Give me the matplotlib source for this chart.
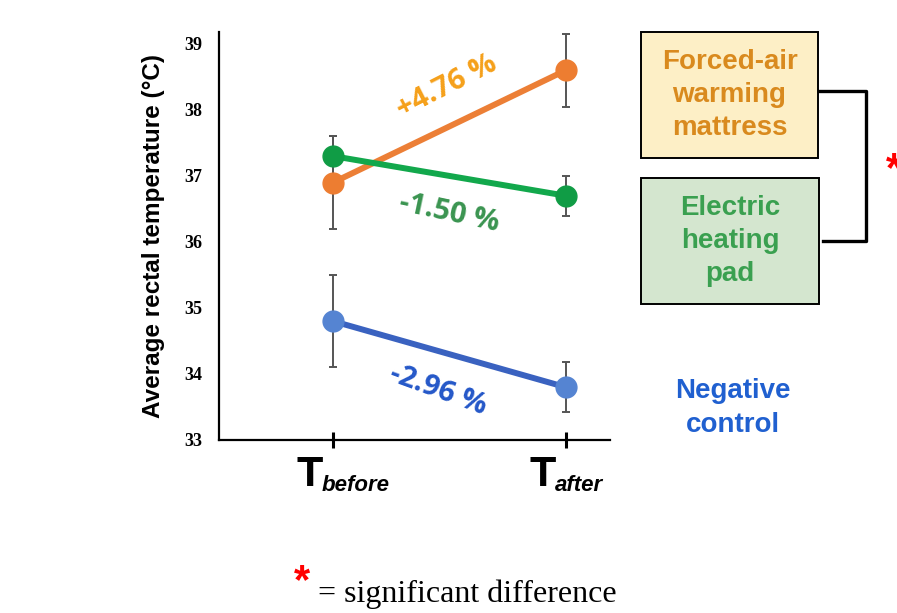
import matplotlib.pyplot as plt
from matplotlib.patches import Rectangle
from matplotlib.lines import Line2D

# Rectal temperature before / after warming (mean +/- SD)
time_points = ["before", "after"]
groups = ["Forced-air\nwarming\nmattress", "Electric\nheating\npad", "Negative\ncontrol"]
forced_air = [36.9, 38.6]
forced_air_sd = [0.7, 0.55]
heating_pad = [37.3, 36.7]
heating_pad_sd = [0.3, 0.3]
neg_control = [34.8, 33.8]
neg_control_sd = [0.7, 0.38]
pct_change = ["+4.76 %", "-1.50 %", "-2.96 %"]
yticks = [33, 34, 35, 36, 37, 38, 39]

W, H = 897, 613
fig = plt.figure(figsize=(W / 100, H / 100), dpi=100)


def px(x, y):
    # pixel position -> figure fraction
    return x / W, 1 - y / H


ax = fig.add_axes([219 / W, 1 - 440 / H, (610 - 219) / W, (440 - 32) / H])
ax.patch.set_alpha(0)

x = [0, 1]
series = [
    (forced_air, forced_air_sd, "#ec7f36", "#ed7d31"),
    (heating_pad, heating_pad_sd, "#12a84c", "#109c45"),
    (neg_control, neg_control_sd, "#3a62c0", "#5584d2"),
]
for vals, sd, lc, mc in series:
    ax.errorbar(x, vals, yerr=sd, fmt="none", ecolor="#555555", elinewidth=1.4,
                capsize=3, capthick=1.4, zorder=2)
    ax.plot(x, vals, color=lc, lw=4.3, zorder=3)
    ax.plot(x, vals, "o", color=mc, ms=15, zorder=4)

# percentage change labels
ax.text(0.49, 38.35, pct_change[0], color="#f5a01a", fontsize=21, fontweight="bold",
        rotation=27, ha="center", va="center", family="Open Sans")
ax.text(0.5, 36.44, pct_change[1], color="#3a9450", fontsize=21, fontweight="bold",
        rotation=-12, ha="center", va="center", family="Open Sans")
ax.text(0.45, 33.76, pct_change[2], color="#2457c8", fontsize=21, fontweight="bold",
        rotation=-20, ha="center", va="center", family="Open Sans")

ax.set_xlim(-0.49, 1.19)
ax.set_ylim(33, 39.18)
ax.set_yticks(yticks)
ax.set_yticklabels([str(t) for t in yticks], family="Liberation Serif",
                   fontweight="bold", fontsize=13)
ax.tick_params(axis="y", length=0, pad=12)
ax.set_xticks(x)
ax.set_xticklabels([])
ax.tick_params(axis="x", direction="inout", length=12, width=2.2, color="black")
for s in ["top", "right"]:
    ax.spines[s].set_visible(False)
for s in ["left", "bottom"]:
    ax.spines[s].set_linewidth(1.6)
ax.set_ylabel("Average rectal temperature (\u00b0C)", fontsize=17.5, fontweight="bold",
              family="Liberation Sans", labelpad=14)

# T_before / T_after tick labels
for xi, sub in zip(x, time_points):
    ax.annotate("T", xy=(xi, 0), xycoords=("data", "axes fraction"),
                xytext=(-7, -11), textcoords="offset points", ha="right", va="top",
                fontsize=31, fontweight="bold", family="Liberation Sans")
    ax.annotate(sub, xy=(xi, 0), xycoords=("data", "axes fraction"),
                xytext=(-8, -25), textcoords="offset points", ha="left", va="top",
                fontsize=16, fontweight="bold", style="italic", family="Liberation Sans")

# group boxes
boxes = [
    (641, 32, 818, 158, "#fdefc6", "#d98a1e", groups[0]),
    (641, 178, 819, 304, "#d4e6cf", "#3aa050", groups[1]),
]
for x0, y0, x1, y1, fc, tc, label in boxes:
    fig.add_artist(Rectangle(px(x0, y1), (x1 - x0) / W, (y1 - y0) / H,
                             transform=fig.transFigure, facecolor=fc,
                             edgecolor="black", lw=1.4))
    fig.text(*px((x0 + x1) / 2, (y0 + y1) / 2), label, color=tc, fontsize=20,
             fontweight="bold", ha="center", va="center", linespacing=1.35,
             family="Liberation Sans")

fig.text(*px(733, 408), groups[2], color="#2060d0", fontsize=20, fontweight="bold",
         ha="center", va="center", linespacing=1.35, family="Liberation Sans")

# significance bracket
bx, by = zip(*[px(819, 91), px(866, 91), px(866, 241), px(823, 241)])
fig.add_artist(Line2D(bx, by, transform=fig.transFigure, color="black", lw=2.4))
fig.text(*px(886, 170), "*", color="red", fontsize=30, fontweight="bold",
         ha="left", va="center", family="Liberation Sans")

# footnote
fig.text(*px(294, 582), "*", color="red", fontsize=30, fontweight="bold",
         ha="left", va="center", family="Liberation Sans")
fig.text(*px(318, 594), "= significant difference", fontsize=23,
         ha="left", va="center", family="Liberation Serif")

fig.savefig("out.png", dpi=100)
